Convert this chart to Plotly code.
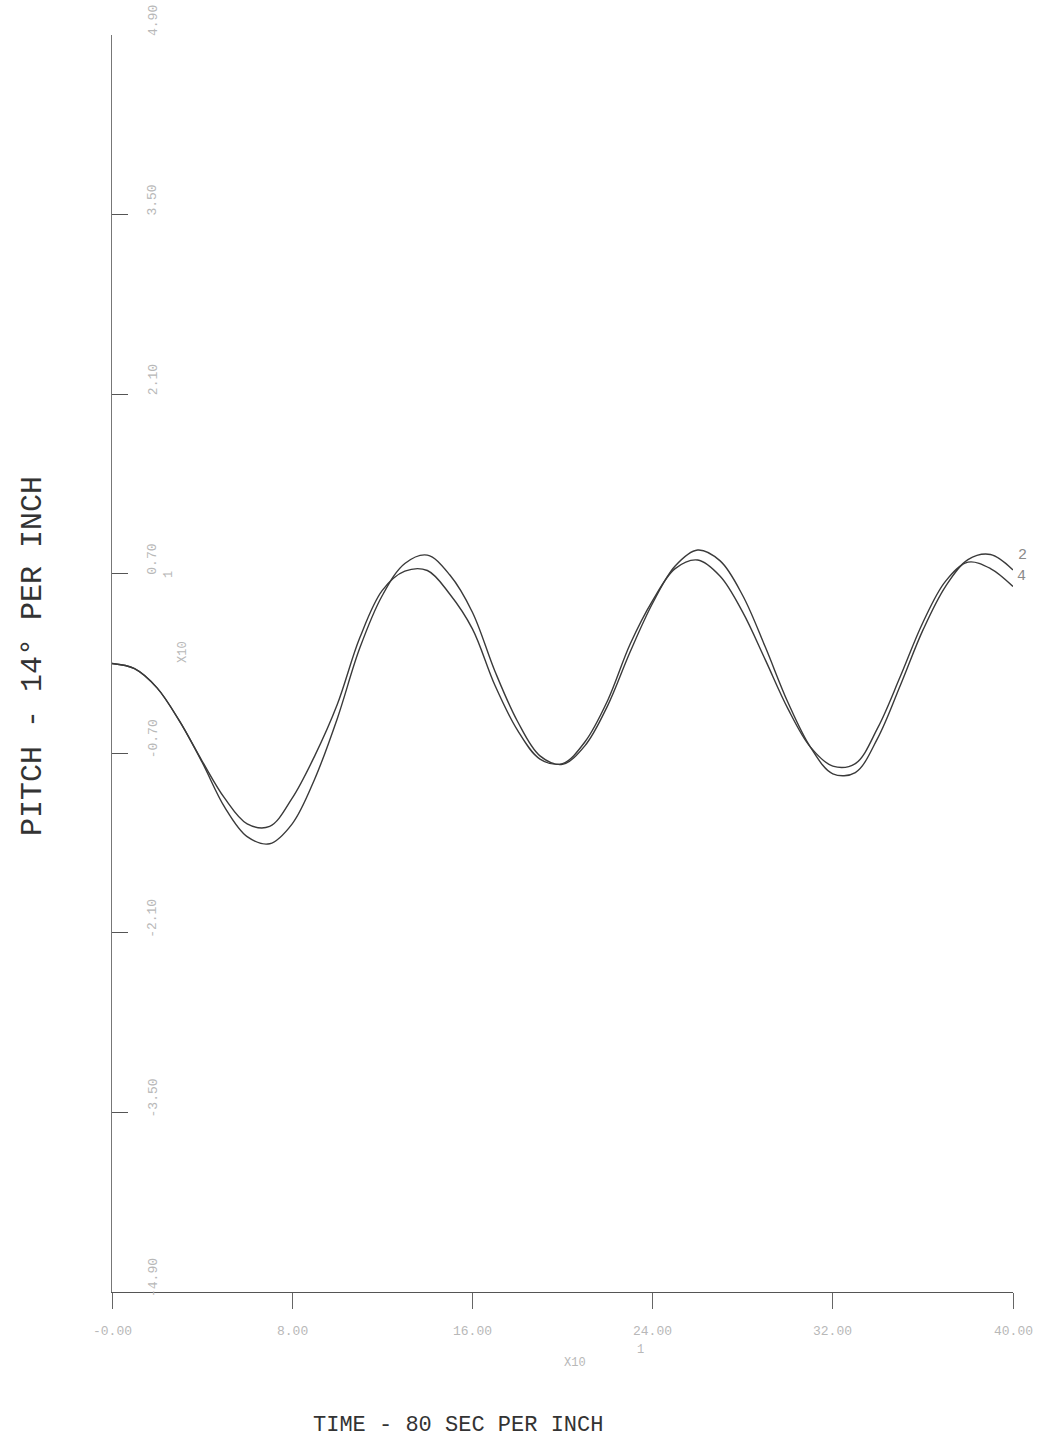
import plotly.graph_objects as go

# Time in units of 10 s (axis labelled x10^1), pitch in units of 10 deg (x10^1)
time_pts = list(range(0, 41))
pitch_run2 = [0.00, -0.04, -0.19, -0.45, -0.77, -1.12, -1.35, -1.405, -1.25, -0.90,
              -0.43, 0.12, 0.53, 0.78, 0.845, 0.69, 0.40, -0.06, -0.45, -0.72,
              -0.786, -0.64, -0.33, 0.09, 0.47, 0.76, 0.885, 0.80, 0.53, 0.13,
              -0.30, -0.65, -0.86, -0.85, -0.58, -0.17, 0.26, 0.60, 0.81, 0.85,
              0.73]
pitch_run4 = [0.00, -0.04, -0.19, -0.45, -0.76, -1.05, -1.25, -1.27, -1.05, -0.72,
              -0.32, 0.20, 0.57, 0.72, 0.725, 0.54, 0.27, -0.17, -0.52, -0.745,
              -0.78, -0.61, -0.29, 0.15, 0.49, 0.74, 0.807, 0.68, 0.40, 0.03,
              -0.35, -0.65, -0.80, -0.78, -0.50, -0.10, 0.32, 0.64, 0.79, 0.74,
              0.60]

x_ticks = [0, 8, 16, 24, 32, 40]
x_tick_text = ["-0.00", "8.00", "16.00", "24.00", "32.00", "40.00"]
y_ticks = [4.9, 3.5, 2.1, 0.7, -0.7, -2.1, -3.5, -4.9]
y_tick_text = ["4.90", "3.50", "2.10", "0.70", "-0.70", "-2.10", "-3.50", "-4.90"]

W, H = 1059, 1448
L, R, T, B = 112, 46, 35, 156
PW, PH = W - L - R, H - T - B


def px(x, y):
    """Convert page pixels to paper coordinates of the plotting area."""
    return (x - L) / PW, (H - B - y) / PH


ink = "#3a3a3a"
faint = "#b8b8b8"
mono = "Liberation Mono, DejaVu Sans Mono, monospace"

fig = go.Figure()
for pp in (pitch_run2, pitch_run4):
    fig.add_trace(go.Scatter(x=time_pts, y=pp, mode="lines",
                             line=dict(color=ink, width=1.4, shape="spline", smoothing=1.0),
                             hoverinfo="skip", showlegend=False))

annotations = []
# rotated y tick labels, drawn just inside the axis
for v, s in zip(y_ticks, y_tick_text):
    xp, _ = px(153, 0)
    annotations.append(dict(x=xp, xref="paper", y=v, yref="y", yshift=14,
                            xanchor="center", yanchor="middle",
                            text=s, textangle=-90, showarrow=False,
                            font=dict(family=mono, size=13, color=faint)))
# x tick labels below the axis
for v, s in zip(x_ticks, x_tick_text):
    _, yp = px(0, 1331)
    annotations.append(dict(x=v, xref="x", y=yp, yref="paper", text=s, showarrow=False,
                            xanchor="center", yanchor="middle",
                            font=dict(family=mono, size=13, color=faint)))

# scale multipliers
for (x, y, s, ang) in [(183, 652, "X10", -90), (169, 575, "1", -90),
                       (575, 1363, "X10", 0), (640, 1350, "1", 0)]:
    xp, yp = px(x, y)
    annotations.append(dict(x=xp, y=yp, xref="paper", yref="paper", text=s,
                            xanchor="center", yanchor="middle",
                            textangle=ang, showarrow=False,
                            font=dict(family=mono, size=12, color=faint)))

# run identifiers at the curve ends
for (x, y, s) in [(1023, 556, "2"), (1022, 576, "4")]:
    xp, yp = px(x, y)
    annotations.append(dict(x=xp, y=yp, xref="paper", yref="paper", text=s,
                            xanchor="center", yanchor="middle",
                            showarrow=False, font=dict(family=mono, size=15, color="#8a8a8a")))

# axis titles
xp, yp = px(33, 656)
annotations.append(dict(x=xp, y=yp, xref="paper", yref="paper",
                        xanchor="center", yanchor="middle",
                        text="PITCH - 14\u00b0 PER INCH", textangle=-90, showarrow=False,
                        font=dict(family=mono, size=30, color="#333333")))
xp, yp = px(458, 1425)
annotations.append(dict(x=xp, y=yp, xref="paper", yref="paper",
                        xanchor="center", yanchor="middle",
                        text="TIME - 80 SEC PER INCH", showarrow=False,
                        font=dict(family=mono, size=22, color="#333333")))

fig.update_layout(
    width=W, height=H,
    margin=dict(l=L, r=R, t=T, b=B),
    paper_bgcolor="white", plot_bgcolor="white",
    annotations=annotations,
    xaxis=dict(range=[0, 40], tickvals=x_ticks, showticklabels=False,
               ticks="outside", ticklen=16, tickcolor="#666", tickwidth=1,
               showline=True, linecolor="#555", linewidth=1.2,
               showgrid=False, zeroline=False),
    yaxis=dict(range=[-4.9, 4.9], tickvals=y_ticks, showticklabels=False,
               ticks="inside", ticklen=16, tickcolor="#555", tickwidth=1.4,
               showline=True, linecolor="#777", linewidth=1,
               showgrid=False, zeroline=False),
)

fig.write_html("out.html")
